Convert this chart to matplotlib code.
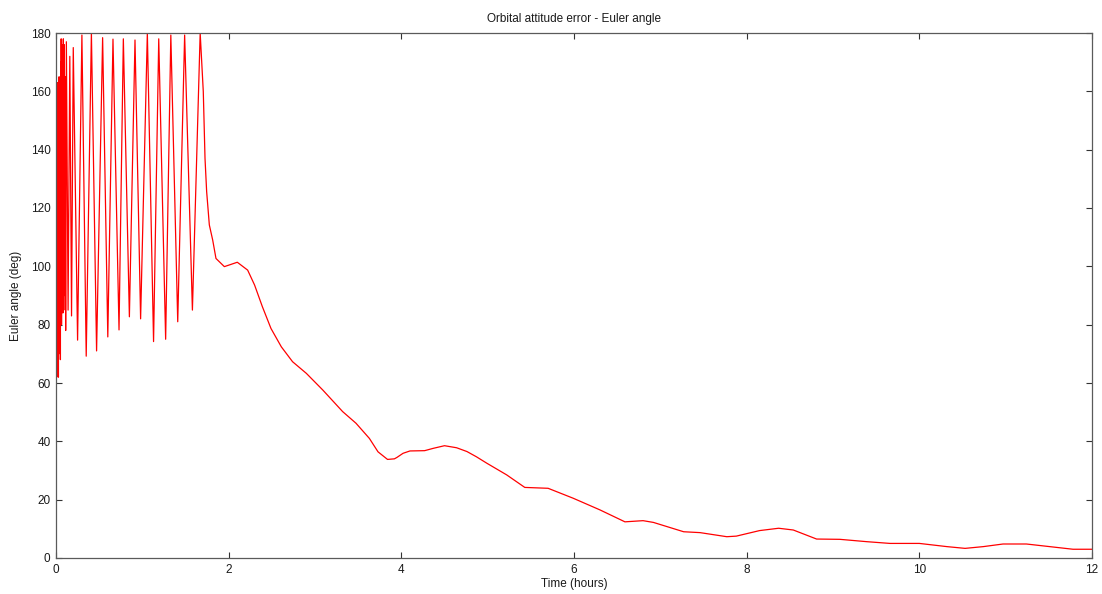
import matplotlib
matplotlib.use("Agg")
import matplotlib.pyplot as plt

# Time (hours) and Euler angle (deg)
time_h = [
    0.000, 0.002, 0.004, 0.006, 0.008, 0.010, 0.012, 0.014, 0.016, 0.018,
    0.020, 0.022, 0.024, 0.026, 0.028, 0.030, 0.033, 0.036, 0.039, 0.042,
    0.045, 0.048, 0.051, 0.054, 0.057, 0.060, 0.064, 0.068, 0.072, 0.076,
    0.080, 0.085, 0.090, 0.095, 0.100, 0.106, 0.112, 0.120, 0.140, 0.160,
    0.180, 0.200, 0.250, 0.300, 0.350, 0.410,
    0.470, 0.540, 0.600, 0.660, 0.730, 0.780, 0.850, 0.915, 0.980, 1.058,
    1.130, 1.190, 1.270, 1.330, 1.410, 1.490, 1.580, 1.670, 1.706, 1.726,
    1.745, 1.776, 1.815, 1.853, 1.950, 2.100, 2.220, 2.300, 2.390, 2.490,
    2.610, 2.740, 2.900, 3.090, 3.320, 3.475, 3.630, 3.730, 3.840, 3.920,
    3.950, 4.020, 4.100, 4.270, 4.370, 4.500, 4.640, 4.760, 4.870, 4.990,
    5.220, 5.430, 5.700, 5.990,
    6.300, 6.590, 6.800, 6.920, 7.270, 7.460, 7.770, 7.880, 8.150, 8.370,
    8.540, 8.810, 9.080, 9.390, 9.660, 10.000, 10.320, 10.530, 10.740, 10.970,
    11.240, 11.510, 11.780, 12.000,
]
euler_deg = [
    53.0, 120.0, 64.0, 148.0, 62.0, 155.0, 66.0, 160.0, 70.0, 163.0,
    72.0, 150.0, 64.0, 140.0, 62.0, 158.0, 70.0, 165.0, 75.0, 155.0,
    80.0, 150.0, 68.0, 170.0, 82.0, 178.0, 80.0, 176.0, 88.0, 175.0,
    84.0, 178.0, 85.0, 176.0, 90.0, 165.0, 78.0, 177.0, 85.0, 172.0,
    83.0, 175.0, 74.7, 179.3, 69.2, 180.0,
    71.0, 178.4, 75.8, 177.9, 78.2, 178.0, 82.7, 177.6, 82.0, 180.0,
    74.2, 178.0, 75.0, 179.3, 81.0, 179.3, 85.0, 180.0, 159.9, 137.0,
    125.6, 114.2, 109.0, 102.7, 99.9, 101.4, 98.7, 93.6, 86.2, 78.7,
    72.4, 67.3, 63.3, 57.6, 50.2, 46.2, 41.0, 36.4, 33.8, 34.0,
    34.5, 35.9, 36.7, 36.8, 37.6, 38.5, 37.8, 36.5, 34.7, 32.5,
    28.5, 24.2, 23.9, 20.5,
    16.5, 12.4, 12.8, 12.2, 9.0, 8.7, 7.3, 7.5, 9.4, 10.2,
    9.6, 6.5, 6.4, 5.6, 5.0, 5.0, 3.9, 3.3, 3.9, 4.8,
    4.8, 3.9, 3.0, 3.0,
]
x_ticks = [0, 2, 4, 6, 8, 10, 12]
y_ticks = [0, 20, 40, 60, 80, 100, 120, 140, 160, 180]

plt.rcParams['font.family'] = ['Liberation Sans', 'DejaVu Sans']
fig = plt.figure(figsize=(11.02, 5.94), dpi=100)
ax = fig.add_axes([56 / 1102, 36 / 594, (1092 - 56) / 1102, (558 - 33) / 594])

ax.plot(time_h, euler_deg, color='#ff0000', lw=0.9)

ax.set_xlim(0, 12)
ax.set_ylim(0, 180)
ax.set_xticks(x_ticks)
ax.set_yticks(y_ticks)
ax.tick_params(direction='in', length=4, width=0.8, top=True, right=True,
               labelsize=8.5, colors='#333333', labelcolor='#1a1a1a', pad=4)
for s in ax.spines.values():
    s.set_color('#5a5a5a')
    s.set_linewidth(0.9)

ax.set_title('Orbital attitude error - Euler angle', fontsize=8.5, pad=8, color='#1a1a1a')
ax.set_xlabel('Time (hours)', fontsize=8.5, labelpad=2, color='#1a1a1a')
ax.set_ylabel('Euler angle (deg)', fontsize=8.5, labelpad=6, color='#1a1a1a')

fig.savefig('out.png', dpi=100)
